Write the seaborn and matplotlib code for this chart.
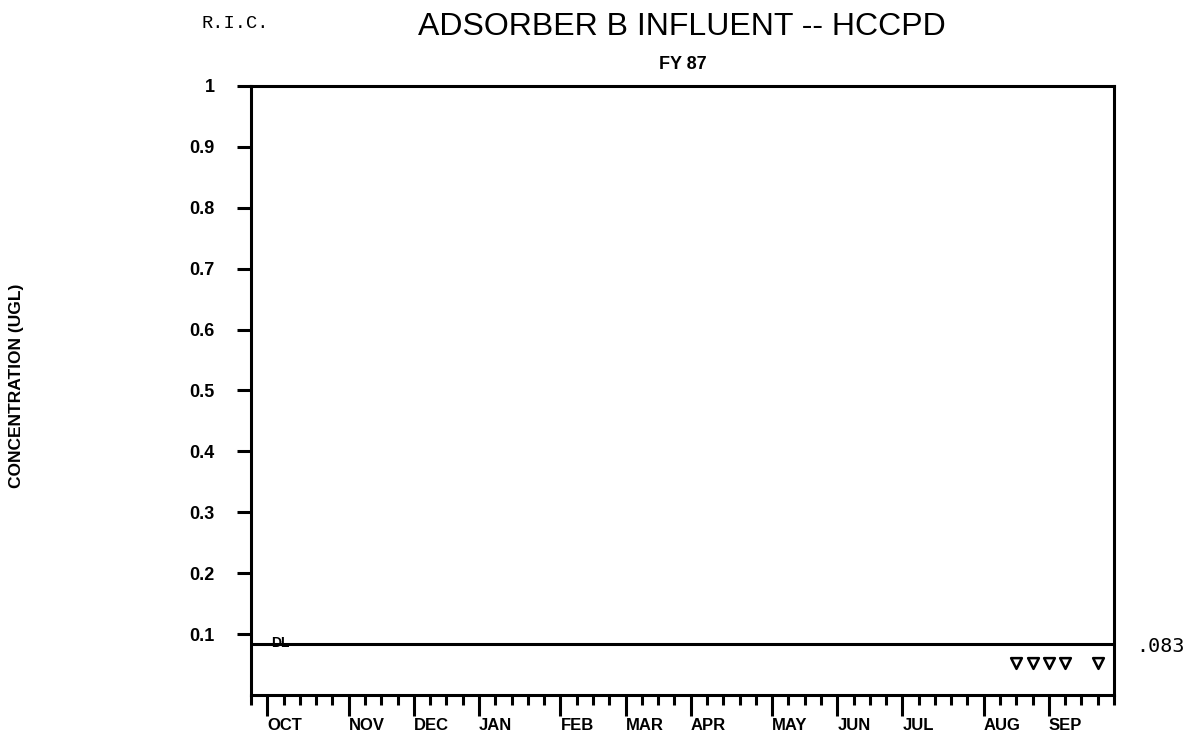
import matplotlib
matplotlib.use("Agg")
import matplotlib.pyplot as plt
import seaborn as sns
import pandas as pd

# ---- data ----
month_labels = ["OCT", "NOV", "DEC", "JAN", "FEB", "MAR", "APR", "MAY", "JUN", "JUL", "AUG", "SEP"]
month_weeks = [1, 6, 10, 14, 19, 23, 27, 32, 36, 40, 45, 49]
sample_weeks = [47, 48, 49, 50, 52]
sample_values = [0.053, 0.053, 0.053, 0.053, 0.053]
detection_limit = 0.083
y_ticks = [0.1, 0.2, 0.3, 0.4, 0.5, 0.6, 0.7, 0.8, 0.9, 1]
y_tick_labels = ["0.1", "0.2", "0.3", "0.4", "0.5", "0.6", "0.7", "0.8", "0.9", "1"]
n_weeks = 53

sns.set_style("white")
plt.rcParams['font.family'] = ['Liberation Sans', 'DejaVu Sans']
plt.rcParams['text.color'] = 'black'
plt.rcParams['xtick.color'] = 'black'
plt.rcParams['ytick.color'] = 'black'
plt.rcParams['axes.labelcolor'] = 'black'

fig = plt.figure(figsize=(11.92, 7.38), dpi=100)
ax = fig.add_axes([0.2106, 0.0583, 0.7240, 0.8252])

df = pd.DataFrame({"week": sample_weeks, "value": sample_values})
sns.scatterplot(data=df, x="week", y="value", marker="v", s=60,
                facecolor="white", edgecolor="black", linewidth=1.8, ax=ax, zorder=3)

ax.axhline(detection_limit, color="black", lw=2.2, zorder=2)
ax.text(1.25, detection_limit + 0.003, "DL", fontsize=10, fontweight="bold", va="center", ha="left")
ax.text(1.026, detection_limit - 0.003, ".083", transform=ax.get_yaxis_transform(),
        fontsize=14.5, family="DejaVu Sans Mono", va="center", ha="left")

ax.set_xlim(0, n_weeks)
ax.set_ylim(0, 1)

for s in ax.spines.values():
    s.set_linewidth(2.2)
    s.set_color("black")

# x ticks
ax.set_xticks(month_weeks)
ax.set_xticklabels(month_labels, fontsize=12, fontweight="bold", ha="left")
ax.set_xticks(list(range(0, n_weeks + 1)), minor=True)
ax.tick_params(axis="x", which="major", direction="out", length=15, width=2.2, pad=1.5, bottom=True)
ax.tick_params(axis="x", which="minor", direction="out", length=7.5, width=2.2, bottom=True)
ax.set_xlabel("")

# y ticks
ax.set_yticks(y_ticks)
ax.set_yticklabels(y_tick_labels, fontsize=13, fontweight="bold")
ax.tick_params(axis="y", which="major", direction="out", length=10, width=2.2, pad=16, left=True)
ax.set_ylabel("")

fig.text(0.0135, 0.477, "CONCENTRATION (UGL)", rotation=90, fontsize=12.5, fontweight="bold",
         va="center", ha="center")
fig.text(0.572, 0.963, "ADSORBER B INFLUENT -- HCCPD", fontsize=23, va="center", ha="center")
fig.text(0.169, 0.968, "R.I.C.", fontsize=13.5, family="Liberation Mono", va="center", ha="left")
fig.text(0.573, 0.913, "FY 87", fontsize=13, fontweight="bold", va="center", ha="center")

fig.savefig("out.png", dpi=100)
